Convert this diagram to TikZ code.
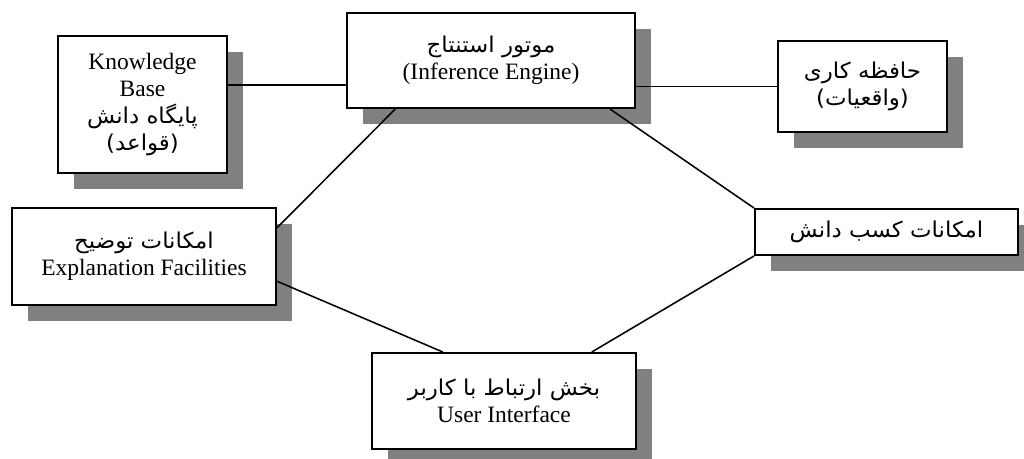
\documentclass[tikz,border=0pt]{standalone}
\usepackage{fontspec}
\setmainfont{Liberation Serif}
\newfontfamily\farsi[Script=Arabic,FakeStretch=1.05]{DejaVu Sans}
\TeXXeTstate=1
\newcommand{\fa}[1]{{\farsi\fontsize{15.5}{19}\selectfont\beginR #1\endR}}
\usetikzlibrary{calc,shadows}

\tikzset{
    part/.style={draw, line width=1.4pt, fill=white, align=center, inner sep=0pt,
        font=\fontsize{16.7}{19}\selectfont,
        drop shadow={shadow xshift=.4cm, shadow yshift=-.4cm, fill=gray, opacity=1}},
    link/.style={line width=1.1pt}
}

\begin{document}
\begin{tikzpicture}[x=0.025cm, y=-0.025cm]
    \useasboundingbox (0,0) rectangle (1024,459);

    % the six parts of the system
    \node[part, minimum width=4.225cm, minimum height=3.425cm] (kb) at (142.5,104.5)
        {Knowledge\\Base\\\fa{پایگاه دانش}\\\fa{(قواعد)}};
    \node[part, minimum width=7.2cm, minimum height=2.375cm] (ie) at (491,60.5)
        {\fa{موتور استنتاج}\\(Inference Engine)};
    \node[part, minimum width=4.225cm, minimum height=2.275cm] (wm) at (862.5,86.5)
        {\fa{حافظه کاری}\\\fa{(واقعیات)}};
    \node[part, minimum width=6.6cm, minimum height=2.425cm] (ef) at (144,256.5)
        {\fa{امکانات توضیح}\\Explanation Facilities};
    \node[part, minimum width=6.575cm, minimum height=1.15cm] (ka) at (886.5,232)
        {\fa{امکانات کسب دانش}};
    \node[part, minimum width=6.6cm, minimum height=2.4cm] (ui) at (504,401)
        {\fa{بخش ارتباط با کاربر}\\User Interface};

    % links
    \coordinate (kbr) at ($(kb.north east)!.36!(kb.south east)$);
    \coordinate (ier) at ($(ie.north east)!.77!(ie.south east)$);
    \draw[link] (kbr) -- (kbr -| ie.west);
    \draw[link] (ier) -- (ier -| wm.west);
    \draw[link] ($(ie.south west)!.17!(ie.south east)$) -- ($(ef.north east)!.21!(ef.south east)$);
    \draw[link] ($(ie.south west)!.91!(ie.south east)$) -- (ka.north west);
    \draw[link] ($(ef.north east)!.75!(ef.south east)$) -- ($(ui.north west)!.27!(ui.north east)$);
    \draw[link] (ka.south west) -- ($(ui.north west)!.83!(ui.north east)$);
\end{tikzpicture}
\end{document}
